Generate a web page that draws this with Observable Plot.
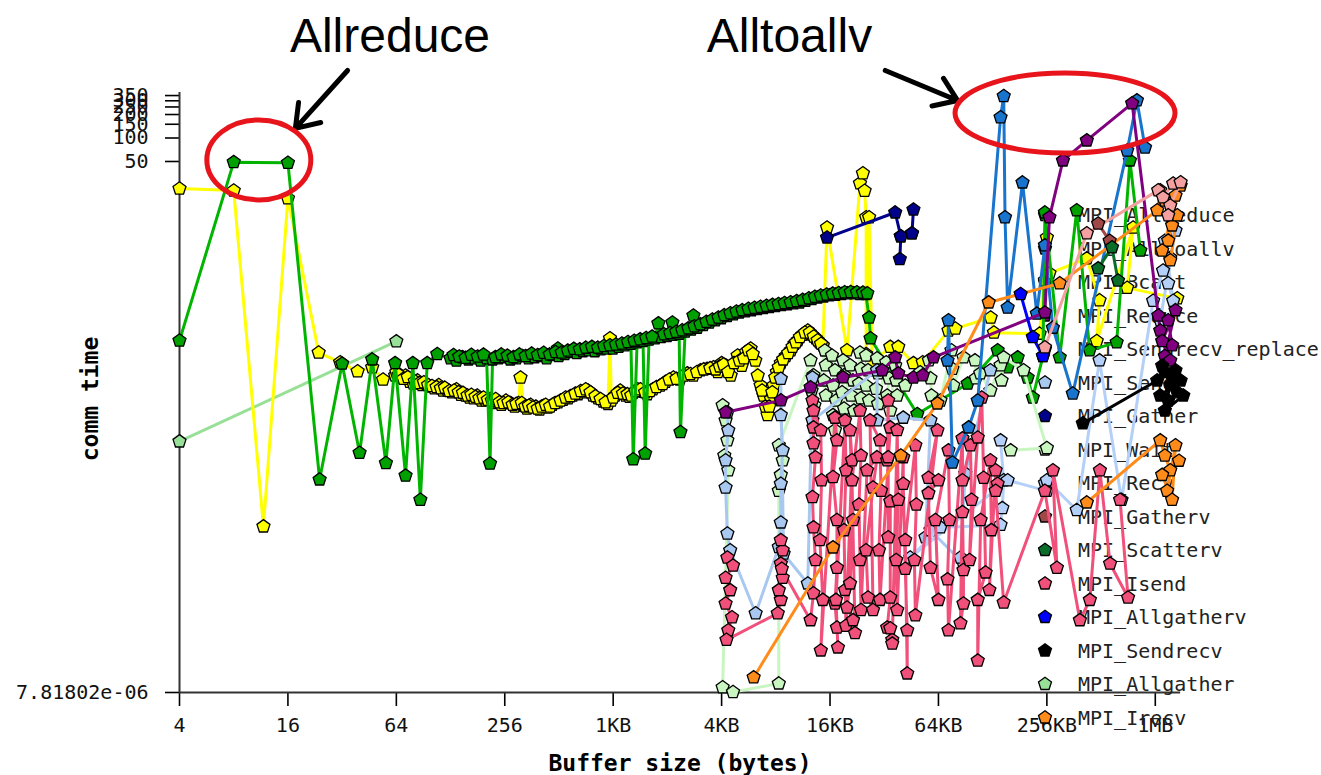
<!DOCTYPE html>
<html><head><meta charset="utf-8">
<script src="https://cdn.jsdelivr.net/npm/d3@7"></script>
<script src="https://cdn.jsdelivr.net/npm/@observablehq/plot@0.6"></script>
<style>body{margin:0;background:#fff}</style>
</head><body><div id="chart"></div>
<script>
// ---- data: [buffer size in bytes, comm time] ----
const allreduce = [
[4,0.253],[8,49],[16,48],[24,0.0042],[32,0.128],[40,0.0092],[47,0.145],[56,0.0068],[63,0.13],[72,0.0047],[79,0.13],[87,0.0023],[95,0.13],[108,0.17],[128,0.15],
[138,0.14],[149,0.155],[161,0.145],[174,0.15],[188,0.14],[203,0.15],[212,0.0067],[219,0.145],[236,0.15],[255,0.155],[275,0.145],[297,0.15],[321,0.16],[347,0.15],[375,0.155],[405,0.16],[437,0.15],[472,0.165],[505,0.2],[510,0.16],[551,0.17],[595,0.18],[643,0.175],[694,0.185],[750,0.19],[810,0.185],[875,0.195],[945,0.2],[1020,0.2],[1100,0.21],[1190,0.22],[1285,0.23],[1323,0.0076],[1390,0.24],[1500,0.25],[1541,0.009],[1620,0.26],[1750,0.27],[1825,0.42],[1890,0.28],[2040,0.29],[2183,0.43],[2200,0.3],[2380,0.31],[2420,0.017],[2570,0.33],[2780,0.35],[2855,0.53],[3000,0.37],[3240,0.4],[3500,0.43],[3780,0.46],[4080,0.49],[4400,0.52],[4760,0.55],[5140,0.58],[5550,0.6],[6000,0.62],[6480,0.64],[7000,0.66],[7550,0.68],[8160,0.7],[8810,0.72],[9510,0.74],[10300,0.76],[11100,0.78],[12000,0.82],[13000,0.86],[14000,0.9],[15100,0.93],[16300,0.96],[17600,0.98],[19000,1.0],[20500,1.02],[22200,1.02],[24000,1.0],[25900,1.0],[27000,0.5],[27500,0.27],
[50000,0.029],[95200,0.071],[139700,0.19],[158800,0.115],[180500,0.154],[205000,0.085],[219000,0.047],[249300,0.16],[255700,11.1],[309000,0.154],[384000,11.8],[453000,0.19],[640000,0.24],[758000,51.5],[866000,3.6]
];
const allreduceBand = [[133,0.165],[143,0.158],[155,0.152],[167,0.166],[181,0.158],[195,0.167],[227,0.155],[245,0.168],[265,0.162],[286,0.155],[309,0.168],[334,0.16],[361,0.172],[390,0.165],[421,0.176],[455,0.168],[490,0.18],[530,0.178],[573,0.188],[619,0.198],[668,0.195],[722,0.205],[780,0.21],[842,0.205],[910,0.215],[982,0.22],[1060,0.225],[1145,0.232],[1237,0.242],[1340,0.252],[1445,0.262],[1560,0.272],[1685,0.284],[1960,0.305],[2120,0.316],[2290,0.327],[2475,0.342],[2675,0.362],[2890,0.385],[3120,0.41],[3370,0.44],[3640,0.47],[3930,0.5],[4240,0.535],[4580,0.565],[4950,0.595],[5340,0.62],[5770,0.645],[6240,0.665],[6740,0.685],[7270,0.705],[7850,0.725],[8480,0.745],[9160,0.765],[9900,0.785],[10700,0.81],[11550,0.84],[12500,0.88],[13500,0.92],[14550,0.955],[15700,0.985],[16950,1.01],[18300,1.03],[19750,1.05],[21350,1.06],[23100,1.05],[24950,1.04],[26400,1.02]];
const alltoallv = [[73600,0.14],[74500,0.46],[78300,0.0069],[96400,0.0195],[108300,0.043],[145000,184],[151000,345],[153500,9.6],[158800,0.67],[192000,26.9],[230600,0.56],[255700,4.2],[283000,0.37],[365000,0.053],[732000,69],[829000,303],[920000,75.5]];
const bcast = [
[4,22.5],[8,21.2],[11.7,0.00105],[16,16.8],[23.7,0.178],[31.2,0.133],[39,0.102],[47,0.115],[54,0.08],[63,0.09],
[64,0.099],[68,0.085],[72,0.09],[76,0.075],[79.5,0.071],[84,0.078],[89,0.068],[94,0.07],[99,0.065],[104,0.062],[110,0.068],[116,0.058],[123,0.058],[130,0.055],[138,0.06],[146,0.051],[155,0.05],[163,0.047],[172,0.046],[180,0.05],[190,0.043],[200,0.043],[212,0.045],[222,0.04],[233,0.042],[245,0.038],[260,0.043],[276,0.04],[290,0.036],[305,0.04],[313,0.085],[326,0.037],[340,0.034],[356,0.038],[381,0.036],[400,0.033],[420,0.037],[444,0.035],[470,0.038],[505,0.041],[540,0.044],[575,0.046],[610,0.05],[653,0.052],[700,0.055],[742,0.058],[790,0.05],[843,0.046],[900,0.042],[958,0.039],[983,0.27],[1000,0.043],[1050,0.05],[1120,0.058],[1200,0.05],[1260,0.048],[1322,0.054],[1400,0.06],[1500,0.056],[1582,0.052],[1700,0.06],[1868,0.067],[2000,0.075],[2212,0.085],[2400,0.08],[2644,0.096],[2850,0.09],[3123,0.105],[3400,0.11],[3690,0.115],[3900,0.1],[4100,0.13],[4313,0.122],[4600,0.09],[5027,0.163],[5300,0.12],[5600,0.18],[5935,0.2],[6300,0.14],[6742,0.067],[7000,0.05],[7373,0.028],[7700,0.045],[7963,0.067],[8300,0.1],[8733,0.13],[9300,0.16],[9920,0.19],[10400,0.23],[10850,0.255],[11500,0.3],[12330,0.34],[13000,0.3],[13660,0.27],[14300,0.24],[14940,0.22],
[15770,7.1],[20360,0.19],[24030,26.2],[24950,35.2],[25500,21],[26000,9.6],[26000,0.17],[27000,9.6],[28100,0.13],
[35400,0.21],[39200,0.21],[47600,0.13],[53600,0.133],[74500,0.34],[81400,0.36],[127800,0.5],[133200,0.32],[239000,0.31],[262144,5.3],[255700,1.5],[271000,1.84],[437000,2.86],[514000,0.83],[496000,0.25],[790000,7.1],[732000,1.2],[1389000,0.88]
];
const bcastBand = [[66,0.092],[70,0.082],[74,0.086],[81,0.076],[86,0.072],[91,0.074],[96,0.068],[101,0.066],[107,0.064],[113,0.062],[119,0.063],[126,0.057],[134,0.058],[142,0.055],[150,0.054],[159,0.05],[167,0.051],[176,0.048],[185,0.046],[195,0.047],[206,0.044],[217,0.043],[228,0.045],[239,0.041],[252,0.04],[268,0.041],[283,0.038],[297,0.039],[318,0.04],[333,0.036],[348,0.037],[368,0.035],[390,0.034],[410,0.036],[432,0.038],[457,0.036],[487,0.04],[522,0.043],[557,0.047],[592,0.049],[631,0.053],[676,0.057],[721,0.06],[766,0.055],[816,0.049],[871,0.045],[929,0.041],[1025,0.047],[1085,0.054],[1160,0.053],[1230,0.052],[1290,0.05],[1360,0.057],[1450,0.06],[1540,0.055],[1640,0.057],[1780,0.064],[1930,0.07],[2100,0.08],[2300,0.082],[2520,0.09],[2750,0.094],[2990,0.1],[3260,0.108],[3540,0.112],[3800,0.108],[4000,0.118],[4200,0.125],[4450,0.1],[4800,0.13],[5150,0.14],[5450,0.15],[5770,0.19],[6100,0.17],[6500,0.09],[6870,0.058],[7180,0.036],[7530,0.036],[7830,0.055],[8130,0.085],[8500,0.115],[9000,0.145],[9600,0.175],[10150,0.21],[10600,0.24],[11150,0.28],[11900,0.32],[12650,0.32],[13300,0.285],[13980,0.255],[14600,0.23]];
const reduce = [[4313,0.0305],[8733,0.0434],[12770,0.0637],[19350,0.0853],[31940,0.105],[37700,0.154],[39200,0.096],[47600,0.085],[53600,0.091],[61500,0.154],[255700,0.58],[271000,9.6],[322000,51.5],[437000,93],[780000,278],[1090000,0.53],[1117000,0.34],[1237000,0.46],[1300000,0.22],[1185000,0.16],[1358000,0.62],[1145000,0.25],[1270000,0.14]];
const sendrecvReplace = [[255700,0.207],[437000,6.0],[1088000,21.3],[1158000,17.3],[1318000,26],[1450000,27],[1270000,13.6],[1237000,10.2]];
const send = [[4410,0.0305],[4460,0.0179],[4310,0.0074],[4310,0.0033],[4410,8.5e-4],[4570,5.2e-4],[6330,8.1e-5],[8510,5.7e-4],[8730,1.18e-3],[8730,3.7e-3],[8950,9.9e-3],[8730,0.028],[8730,0.082],[9050,4.7e-4],[12330,1.95e-4],[13090,0.085],[13090,0.024],[29880,0.105],[29880,0.024],[41780,0.026],[59180,0.024],[55500,7.6e-4],[59180,9.4e-4],[90230,3.5e-4],[86840,4.2e-4],[92400,5.0e-3],[127300,0.105]];
const gather = [[15770,5.3],[37700,11.1],[40500,5.5],[40000,2.8],[40500,5.5],[46700,6.0],[47600,12.1],[46700,6.0]];
const wait = [
[4150,0.0374],[4310,0.024],[4410,0.0133],[4240,0.0085],[4460,0.0055],[4150,9.1e-6],[4740,7.9e-6],
[8510,1.02e-5],[8510,3.0e-3],[8730,4.8e-3],[8950,7.4e-3],[8510,0.0115],
[12770,0.141],[13260,0.091],[12930,0.058],[13420,0.0374],
[15330,0.189],[15530,0.122],[15130,0.078],[15530,0.05],
[17680,0.043],[17020,0.028],[17460,0.018],[17020,0.067],[17460,0.105],[16800,0.163],
[19350,0.141],[19600,0.091],[19100,0.055],[19600,0.034],
[21160,0.122],[21990,0.078],[21430,0.05],[22260,0.032],
[24030,0.178],[24340,0.11],[23720,0.071],[24340,0.046],
[26960,0.043],[25970,0.067],[26640,0.105],[25970,0.163],
[29880,0.15],[30270,0.096],[29500,0.061],[30270,0.039],
[33610,0.133],[34920,0.083],[34040,0.05],[35390,0.032],
[37700,0.122],[38180,0.078],[38680,0.05],
[42860,0.067],[51900,0.099],[58000,0.141],[59180,0.083],[59940,0.05],[67200,0.043],[77400,0.19],[78300,0.11],[79300,0.067],[90230,0.154],[104500,0.141],[105800,0.083],[111900,0.096],[127300,0.058],[145000,0.122],[146900,0.078],[150900,0.154],[194700,0.105],[262144,0.0106],[165000,0.0099]
];
const recv = [[145000,0.0133],[150900,4.1e-3],[148300,1.8e-3],[145000,1.1e-3],[67200,1.02e-3],[45680,4.2e-4],[158800,4.1e-3],[262144,3.0e-3],[262144,4.1e-3],[384000,1.7e-3],[514000,0.141],[681000,2.3e-3],[1020000,0.82],[1158000,2.0],[1270000,2.9],[1237000,1.37],[1318000,0.82],[1185000,4.8],[1358000,6.5],[1117000,0.46]];
const gatherv = [[505000,8.0],[585000,4.8]];
const scatterv = [[505000,2.13],[603000,3.96],[651000,1.49]];
const isend = [
[4410,4.2e-4],[4740,3.3e-4],[4310,2.3e-4],[4570,1.6e-4],[4310,1.08e-4],[4680,7.2e-5],[4460,4.9e-5],[4360,3.7e-5],
[8400,8.1e-5],[8730,1.2e-4],[8510,1.6e-4],[8950,2.3e-4],[8730,3.5e-4],[8950,5.2e-4],[8730,7.0e-4],[8840,3.0e-4],
[12770,6.6e-5],[13260,1.46e-4],[13600,3.9e-4],[13260,1.02e-3],[13090,2.5e-3],[13600,8.1e-3],[13260,1.22e-2],[13260,1.95e-2],[13090,4.3e-2],[13260,3.2e-2],
[14560,0.0179],[14700,0.0041],[14400,7.0e-4],[14940,1.2e-4],[14560,2.7e-5],
[17460,2.6e-2],[17900,1.33e-2],[17020,4.5e-3],[17900,1.27e-3],[17900,3.1e-4],[17460,1.08e-4],[17900,5.3e-5],[18130,2.95e-5],[17680,1.2e-4],
[19850,0.024],[20100,0.0055],[19600,9.4e-4],[19850,1.61e-4],[20100,5.6e-5],
[21710,7.4e-3],[21160,1.79e-2],[21990,1.27e-3],[21160,1.95e-4],[20360,9.6e-5],[21990,6.6e-5],[22560,4.5e-5],[21710,4.1e-3],
[24030,0.032],[24340,0.0085],[23720,0.002],[24030,3.9e-4],[24340,8.9e-5],
[26300,5.5e-3],[29880,8.1e-3],[28390,3.3e-3],[25970,5.2e-4],[26640,1.29e-4],[28390,8.9e-5],[27330,2.4e-2],
[31040,0.0133],[31440,0.003],[30640,5.2e-4],[31040,1.2e-4],
[35390,1.95e-2],[34040,7.4e-3],[34470,4.3e-2],[34470,8.1e-3],[34470,7.6e-4],[35390,2.2e-3],[35390,1.29e-4],[34040,5.3e-5],[36310,3.7e-5],[35390,5.2e-5],[36310,3.3e-5],
[38680,0.018],[39200,0.0023],[38180,3.9e-4],[38680,8.9e-5],
[41780,8.1e-3],[41780,3.7e-3],[42860,3.0e-4],[43970,4.9e-5],[43970,1.37e-5],[42860,7.0e-4],
[48800,0.0115],[49400,0.002],[48200,3.9e-4],[48800,7.6e-5],
[64700,1.79e-2],[57670,4.4e-3],[65536,4.1e-3],[57670,2.8e-3],[59180,3.1e-4],[65536,1.2e-4],[63030,1.27e-3],
[74500,0.0099],[75400,1.27e-3],[73600,2.2e-4],[74500,4.9e-5],
[89090,1.41e-2],[89090,1.6e-3],[90230,2.9e-4],[90230,1.08e-4],[86840,6.0e-5],[89090,4.1e-3],
[98700,0.0115],[100000,0.0023],[97500,3.9e-4],
[108300,1.45e-2],[114000,4.7e-2],[116800,4.4e-3],[119800,2.7e-4],[108300,1.2e-4],[108300,2.0e-5],[112400,1.27e-3],
[127300,0.0074],[128900,9.4e-4],[125700,1.61e-4],
[136200,5.5e-3],[139700,3.7e-3],[136200,3.0e-3],[150900,1.11e-4],
[255600,3.0e-3],[298000,3.1e-4],[283200,5.5e-3],
[399800,6.6e-5],[454300,1.2e-4],[516400,5.5e-3],[588400,3.5e-4],[740300,1.29e-4],[668500,2.3e-3]
];
const allgatherv = [[187400,1.0],[219000,0.28],[249300,0.16]];
const sendrecv = [[415000,0.022],[1075000,0.078],[1185000,0.1],[1270000,0.068],[1358000,0.105],[1450000,0.078],[1117000,0.05],[1237000,0.043],[1389000,0.055],[1145000,0.12],[1300000,0.093],[1185000,0.032],[1500000,0.05]];
const allgather = [[4,0.0129],[64,0.247]];
const irecvA = [[6170,1.22e-5],[17020,5.65e-4],[40500,8.5e-3],[64700,0.0396],[124600,0.78],[309000,1.37],[1075000,11.8],[1117000,21.3],[1185000,15.8],[1300000,7.57],[1237000,4.83],[1358000,18.3],[1450000,24.6],[1145000,3.6],[1270000,2.7],[1389000,10.2]];
const irecvB = [[437000,2.13e-3],[1117000,0.0133],[1185000,0.0085],[1270000,0.0055],[1220000,0.003],[1358000,0.0115],[1300000,0.0023],[1145000,0.0048],[1420000,0.0073]];

const seriesNames = ["MPI_Allreduce","MPI_Alltoallv","MPI_Bcast","MPI_Reduce","MPI_Sendrecv_replace","MPI_Send","MPI_Gather","MPI_Wait","MPI_Recv","MPI_Gatherv","MPI_Scatterv","MPI_Isend","MPI_Allgatherv","MPI_Sendrecv","MPI_Allgather","MPI_Irecv"];
const lineColors = ["#00b400","#1874cd","#ffff00","#800080","#f4a0a0","#a8c8f0","#00008b","#c8f5c0","#b4d0f8","#a04848","#0a6e2a","#f0507a","#0000ff","#000000","#98e098","#ff8c1a"];
const fillColors = ["#00a000","#1874cd","#ffff00","#800080","#f4a0a0","#a8c8f0","#00008b","#c8f5c0","#b4d0f8","#a04848","#0a6e2a","#f0507a","#0000ff","#000000","#98e098","#ff8c1a"];
const seriesSegments = [[allreduce, allreduceBand],[alltoallv],[bcast, bcastBand],[reduce],[sendrecvReplace],[send],[gather],[wait],[recv],[gatherv],[scatterv],[isend],[allgatherv],[sendrecv],[allgather],[irecvA, irecvB]];
const drawOrder = [14,2,0,7,5,8,11,6,1,3,15,12,4,9,10,13];

const xTicks = [4,16,64,256,1024,4096,16384,65536,262144,1048576];
const xTickLabels = ["4","16","64","256","1KB","4KB","16KB","64KB","256KB","1MB"];
const yTicks = [7.81802e-06,50,100,150,200,250,300,350];
const yTickLabels = ["7.81802e-06","50","100","150","200","250","300","350"];
const yMin = 7.81802e-06, yMax = 383;

// annotations (data coordinates)
const notes = [{x:59, y:1970, text:"Allreduce"},{x:9750, y:1970, text:"Alltoallv"}];
const arrows = [{x1:34.3,y1:734,x2:17.6,y2:133},{x1:33200,y1:734,x2:83600,y2:303}];
const rings = [{x:11.1,y:51.6,rx:52,ry:40},{x:332800,y:206,rx:110,ry:40}];

const pentagon = {draw(ctx, size) {
  const r = Math.sqrt(size / Math.PI) * 1.1;
  for (let i = 0; i < 5; i++) {
    const a = -Math.PI / 2 + i * 2 * Math.PI / 5;
    const px = r * Math.cos(a), py = r * Math.sin(a);
    if (i) ctx.lineTo(px, py); else ctx.moveTo(px, py);
  }
  ctx.closePath();
}};

const dataMarks = [];
drawOrder.forEach((si, k) => {
  seriesSegments[si].forEach((seg, j) => {
    dataMarks.push(Plot.line(seg, {x: d => d[0], y: d => d[1], stroke: lineColors[si], strokeWidth: 3, className: (k === 0 && j === 0) ? "firstdata" : undefined}));
  });
  seriesSegments[si].forEach(seg => {
    dataMarks.push(Plot.dot(seg, {x: d => d[0], y: d => d[1], symbol: pentagon, r: 6.2, fill: fillColors[si], stroke: "#000", strokeWidth: 1.3}));
  });
});

const plot = Plot.plot({
  width: 1321, height: 775,
  marginLeft: 179, marginRight: 112, marginTop: 92, marginBottom: 83,
  x: {type: "log", domain: [4, 2097152]},
  y: {type: "log", domain: [yMin, yMax]},
  style: {fontFamily: "DejaVu Sans Mono", fontSize: "20px", background: "#fff", color: "#000", overflow: "visible"},
  marks: [
    Plot.axisX({ticks: xTicks, tickFormat: () => "", tickSize: 14, strokeWidth: 1.6, label: null}),
    Plot.axisY({ticks: yTicks, tickFormat: () => "", tickSize: 14, strokeWidth: 1.6, label: null}),
    Plot.text(xTicks, {x: d => d, text: (d, i) => xTickLabels[i], frameAnchor: "bottom", dy: 39, fill: "#111"}),
    Plot.text(yTicks, {y: d => d, text: (d, i) => yTickLabels[i], frameAnchor: "left", dx: -31, textAnchor: "end", fill: "#111"}),
    Plot.ruleY([yMin], {x1: 4, x2: 1450000, stroke: "#333", strokeWidth: 2}),
    Plot.ruleX([4], {y1: yMin, y2: yMax, stroke: "#333", strokeWidth: 2}),
    ...dataMarks,
    Plot.text(notes, {x: "x", y: "y", text: "text", fontSize: 48, fontFamily: "Liberation Sans, Arial, sans-serif", fill: "#000"}),
    Plot.arrow(arrows, {x1: "x1", y1: "y1", x2: "x2", y2: "y2", stroke: "#000", strokeWidth: 5, headLength: 24, headAngle: 70})
  ]
});

const svg = d3.select(plot);
const sx = plot.scale("x"), sy = plot.scale("y");
svg.append("g").selectAll("ellipse").data(rings).join("ellipse")
  .attr("cx", d => sx.apply(d.x)).attr("cy", d => sy.apply(d.y))
  .attr("rx", d => d.rx).attr("ry", d => d.ry)
  .attr("fill", "none").attr("stroke", "#e8141c").attr("stroke-width", 5);
svg.append("text").attr("x", 680).attr("y", 763).attr("text-anchor", "middle").attr("dy", "0.35em")
  .attr("font-family", "DejaVu Sans Mono").attr("font-weight", "bold").attr("font-size", 23).text("Buffer size (bytes)");
svg.append("text").attr("transform", "translate(90,399) rotate(-90)").attr("text-anchor", "middle").attr("dy", "0.35em")
  .attr("font-family", "DejaVu Sans Mono").attr("font-weight", "bold").attr("font-size", 23).text("comm time");
const legend = d3.create("svg:g");
seriesNames.forEach((name, i) => {
  const y = 215 + 33.5 * i;
  legend.append("path").attr("transform", `translate(1045,${y})`)
    .attr("d", d3.symbol(pentagon, Math.PI * 6.2 * 6.2)())
    .attr("fill", fillColors[i]).attr("stroke", "#000").attr("stroke-width", 1.3);
  legend.append("text").attr("x", 1078).attr("y", y).attr("dy", "0.35em").attr("text-anchor", "start")
    .attr("font-family", "DejaVu Sans Mono").attr("font-size", 20).attr("fill", "#222").text(name);
});
plot.insertBefore(legend.node(), plot.querySelector(".firstdata"));
document.getElementById("chart").appendChild(plot);
</script>
</body></html>
